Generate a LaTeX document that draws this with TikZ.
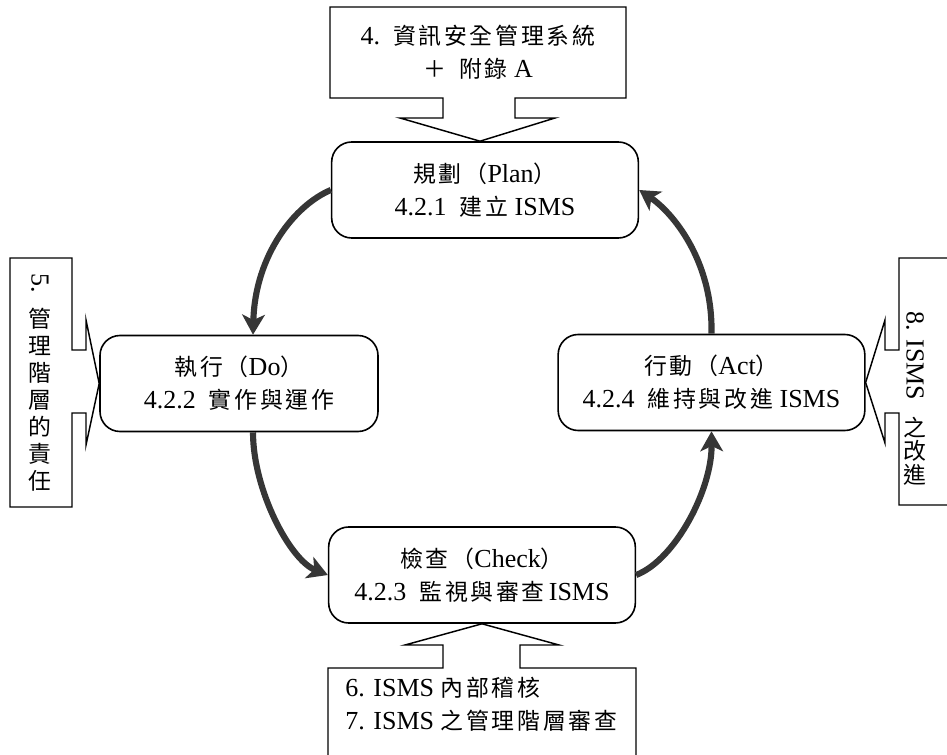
\documentclass[tikz,border=0pt]{standalone}
\usepackage{fontspec}
\setmainfont{Liberation Serif}
\newfontfamily\cjk{Noto Sans CJK TC}[Scale=0.88,LetterSpace=12]
\newcommand{\zh}[1]{{\cjk #1}}
\usetikzlibrary{calc,arrows.meta}
\definecolor{arrowgray}{HTML}{363636}
\tikzset{
phase/.style={draw=black,line width=1.2pt,rounded corners=15pt,align=center,
  minimum width=230pt,minimum height=72pt,inner sep=0pt},
callout/.style={draw=black,line width=1.1pt,line join=miter},
cyclearrow/.style={line width=4.6pt,draw=arrowgray,
  -{Stealth[length=15pt,width=17pt,inset=4pt]}},
note/.style={align=center,inner sep=0pt},
vstack/.style={align=center,inner sep=0pt,font=\fontsize{19.5pt}{#1}\selectfont\cjk},
}
\begin{document}
\begin{tikzpicture}[
x=0.75pt,y=-0.75pt,
font=\fontsize{19.5pt}{24.75pt}\selectfont,
]
\useasboundingbox (0,0) rectangle (947,755);

\node[phase] (plan) at (485,190) {\zh{規劃（}Plan\zh{）}\\4.2.1\ \ \zh{建立} ISMS};
\node[phase,minimum width=208.5pt] (do) at (239,383.5) {\zh{執行（}Do\zh{）}\\4.2.2\ \ \zh{實作與運作}};
\node[phase] (act) at (711.5,382.5) {\zh{行動（}Act\zh{）}\\4.2.4\ \ \zh{維持與改進} ISMS};
\node[phase] (check) at (482,575) {\zh{檢查（}Check\zh{）}\\4.2.3\ \ \zh{監視與審查}\hspace{3pt}ISMS};

\draw[callout] (330,7) -- (626,7) -- (626,98) -- (515,98) -- (515,118) -- (555,118)
  -- ($(plan.north)+(-5,0)$) -- (400,118) -- (443,118) -- (443,98) -- (330,98) -- cycle;
\node[note] (stdtext) at (478,52) {4.\ \ \zh{資訊安全管理系統}\\\zh{＋}\ \ \zh{附錄} A};

\draw[callout] (10,258) -- (72,258) -- (72,350) -- (86,350) -- (86,320) -- (do.west)
  -- (86,445) -- (86,413) -- (72,413) -- (72,507) -- (10,507) -- cycle;
\node[note,rotate=-90] (respnum) at (40,283) {5.};
\node[vstack=20.25pt] (resptext) at (40,400) {管\\理\\階\\層\\的\\責\\任};

\draw[callout] (947,258) -- (899,258) -- (899,350) -- (885,350) -- (885,320) -- (act.east)
  -- (885,443) -- (885,413) -- (899,413) -- (899,505) -- (947,505);
\node[note,rotate=-90] (imprnum) at (915,356) {8. ISMS};
\node[vstack=17.5pt] (imprtext) at (915,451) {之\\改\\進};

\draw[callout] (328,755) -- (328,668) -- (443,668) -- (443,645) -- (405,645) -- (check.south)
  -- (559,645) -- (520,645) -- (520,668) -- (636,668) -- (636,755);
\node[note,align=left,anchor=west] (audittext) at (345,704) {6. ISMS \zh{內部稽核}\\7. ISMS \zh{之管理階層審查}};

\draw[cyclearrow] (plan.west) .. controls (295,205) and (255,255) .. ($(do.north)+(14,0)$);
\draw[cyclearrow] ($(do.south)+(14,0)$) .. controls (253,490) and (290,560) .. (check.west);
\draw[cyclearrow] (check.east) .. controls (675,560) and (712,490) .. (act.south);
\draw[cyclearrow] (act.north) .. controls (713,260) and (672,212) .. (plan.east);
\end{tikzpicture}
\end{document}
